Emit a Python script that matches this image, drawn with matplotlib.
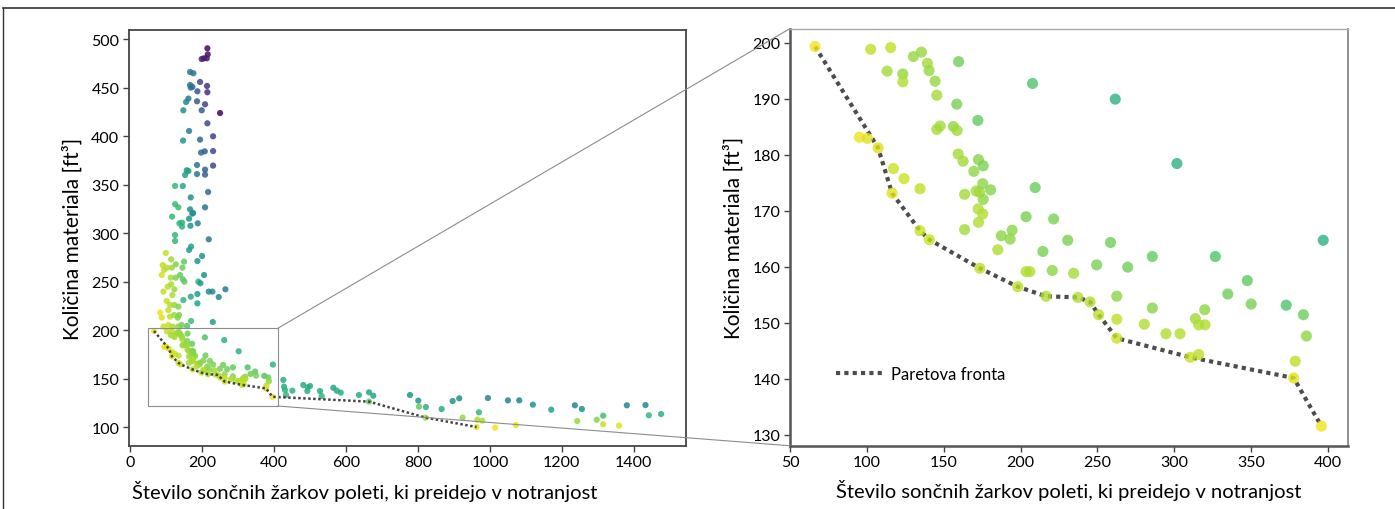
import numpy as np
import matplotlib.pyplot as plt
from matplotlib.patches import Rectangle, ConnectionPatch

plt.rcParams['font.family'] = ['Lato', 'DejaVu Sans']

# solutions inside the zoomed window
zoom_x = [66.3, 102.5, 115.5, 130.3, 135.5, 113.2, 123.4, 123.4, 139.4, 140.5,
          144.4, 145.5, 159.7, 207.8, 158.5, 172.2, 145.5, 147.7, 156.3, 158.7,
          95.1, 100.3, 107.3, 159.4, 162.6, 172.6, 175.7, 117.3, 169.6, 124.2,
          134.6, 116.4, 163.6, 171.1, 173.3, 175.4, 180.5, 175.7, 209.5, 172.4,
          175.4, 172.6, 203.6, 221.5, 163.6, 134.6, 140.7, 187.4, 194.5, 193.2,
          185.2, 214.5, 261.6, 301.7, 396.9, 230.7, 258.5, 285.7, 326.7, 173.5,
          198.2, 203.6, 206.0, 220.6, 249.5, 269.7, 234.5, 347.5, 216.5, 237.3,
          245.2, 262.6, 334.8, 350.0, 372.8, 250.8, 262.6, 285.7, 319.8, 313.7,
          315.9, 320.0, 280.5, 294.6, 303.7, 384.0, 386.0, 262.6, 310.4, 315.9,
          378.7, 377.7, 395.7]
zoom_y = [199.3, 198.8, 199.1, 197.5, 198.3, 194.9, 194.4, 193.0, 196.3, 195.0,
          193.1, 190.6, 196.6, 192.7, 189.0, 186.1, 184.5, 185.1, 185.0, 184.3,
          183.1, 182.9, 181.2, 180.1, 178.8, 179.1, 178.0, 177.5, 177.0, 175.7,
          173.9, 173.1, 172.9, 173.5, 173.3, 174.8, 173.7, 172.0, 174.1, 170.3,
          169.4, 167.9, 168.9, 168.5, 166.6, 166.4, 164.8, 165.5, 166.5, 164.9,
          163.0, 162.7, 189.9, 178.4, 164.7, 164.7, 164.3, 161.8, 161.8, 159.7,
          156.4, 159.1, 159.1, 159.3, 160.3, 159.9, 158.8, 157.5, 154.7, 154.5,
          153.7, 154.7, 155.1, 153.3, 153.1, 151.4, 150.6, 152.6, 152.3, 150.7,
          149.6, 149.6, 149.7, 148.0, 148.0, 151.4, 147.6, 147.2, 143.8, 144.3,
          143.1, 140.1, 131.5]
zoom_c = [0.98, 0.91, 0.91, 0.84, 0.84, 0.86, 0.84, 0.88, 0.86, 0.84,
          0.84, 0.86, 0.78, 0.72, 0.80, 0.76, 0.86, 0.86, 0.83, 0.86,
          0.97, 0.95, 0.95, 0.86, 0.86, 0.82, 0.80, 0.92, 0.83, 0.92,
          0.90, 0.95, 0.86, 0.86, 0.86, 0.83, 0.82, 0.83, 0.77, 0.88,
          0.88, 0.88, 0.80, 0.80, 0.86, 0.92, 0.92, 0.83, 0.83, 0.83,
          0.88, 0.80, 0.64, 0.64, 0.64, 0.80, 0.78, 0.76, 0.72, 0.90,
          0.90, 0.88, 0.88, 0.83, 0.80, 0.78, 0.86, 0.75, 0.88, 0.88,
          0.88, 0.83, 0.78, 0.80, 0.72, 0.90, 0.90, 0.82, 0.83, 0.86,
          0.88, 0.88, 0.88, 0.88, 0.88, 0.77, 0.83, 0.92, 0.92, 0.90,
          0.90, 0.95, 0.98]

# remaining solutions
other_x = [214.7, 215.8, 213.0, 199.0, 205.0, 166.7, 175.9, 194.4, 166.7, 168.5,
           173.0, 213.9, 187.0, 214.7, 162.0, 155.6, 186.0, 208.3, 148.0, 199.0,
           250.0, 214.7, 163.9, 230.6, 147.2, 194.4, 197.2, 207.5, 230.6, 186.0,
           230.6, 157.4, 162.0, 152.8, 186.0, 208.3, 208.3,
           125.0, 146.4, 168.6, 216.7, 125.0, 134.0, 166.7, 208.3, 175.0, 116.7,
           173.0, 163.9, 188.0, 137.0, 144.4, 144.4, 167.6, 218.6, 125.0, 125.0,
           163.9, 169.4, 99.2, 113.9, 150.0, 200.0, 187.0, 90.7, 94.4, 88.0,
           101.8, 115.7, 127.0, 145.4, 113.0, 127.0, 138.9, 146.4, 150.9, 205.6,
           189.8, 195.4, 218.6, 228.7, 264.8, 246.3, 187.0, 168.6, 187.0, 148.0,
           92.6, 104.6, 113.9, 123.0, 117.6, 101.8, 111.0, 123.0, 134.2, 83.3,
           88.0, 106.4, 111.0, 122.2, 136.0, 158.3, 169.4, 229.7, 92.6, 106.4,
           118.6, 134.0, 132.4, 143.6,
           425.8, 427.8, 430.6, 433.3, 450.9, 481.4, 493.6, 500.0, 492.6, 527.8,
           532.4, 564.8, 574.2, 585.3, 636.0, 663.9, 675.9, 663.9, 777.8, 800.9,
           802.8, 822.0, 821.3, 865.8, 896.3, 914.8, 924.0, 969.4, 964.8, 978.7,
           963.0, 994.4, 1014.8, 1050.0, 1081.5, 1072.0, 1119.4, 1170.4, 1236.0,
           1242.6, 1255.6, 1297.0, 1314.8, 1314.8, 1359.0, 1380.6, 1432.4,
           1441.7, 1475.8]
other_y = [490.7, 484.5, 480.4, 479.7, 480.4, 466.3, 465.0, 456.0, 452.9, 450.2,
           451.0, 451.9, 446.4, 445.4, 438.9, 435.4, 436.1, 433.0, 426.8, 426.8,
           424.0, 413.4, 405.5, 400.0, 395.6, 396.6, 383.2, 384.5, 384.8, 370.4,
           369.8, 365.0, 364.2, 360.1, 361.1, 365.6, 360.5,
           348.8, 348.8, 337.0, 342.6, 330.0, 326.8, 324.7, 326.8, 321.0, 317.2,
           320.3, 315.1, 310.3, 310.3, 311.0, 306.9, 307.8, 293.8, 298.2, 292.1,
           282.8, 286.3, 279.7, 273.2, 270.8, 276.6, 271.4, 267.3, 262.2, 257.0,
           264.6, 264.6, 268.0, 264.6, 254.3, 254.3, 257.0, 252.6, 250.2, 257.0,
           250.2, 248.5, 239.9, 239.9, 242.3, 234.3, 237.4, 234.7, 227.8, 231.2,
           239.9, 245.0, 247.4, 242.3, 236.4, 230.2, 226.1, 226.1, 224.4, 218.2,
           213.1, 220.9, 214.1, 215.8, 215.8, 204.4, 209.6, 208.6, 203.8, 205.5,
           203.8, 204.0, 213.1, 205.5,
           148.8, 142.0, 138.5, 133.3, 137.8, 143.6, 141.2, 142.6, 137.4, 137.4,
           132.3, 140.8, 137.8, 135.8, 133.3, 136.1, 132.6, 126.5, 133.3, 127.5,
           121.3, 120.9, 110.0, 118.9, 127.1, 129.9, 110.0, 115.5, 107.9, 106.9,
           100.3, 130.2, 99.7, 127.8, 127.8, 102.4, 123.4, 118.2, 122.7,
           106.5, 118.9, 107.8, 112.0, 103.1, 101.8, 122.7, 123.0,
           112.4, 113.7]
other_c = [0.02, 0.04, 0.06, 0.08, 0.07, 0.36, 0.38, 0.20, 0.36, 0.38,
           0.36, 0.14, 0.26, 0.14, 0.40, 0.45, 0.28, 0.20, 0.50, 0.28,
           0.02, 0.22, 0.42, 0.20, 0.52, 0.33, 0.33, 0.30, 0.22, 0.38,
           0.22, 0.56, 0.56, 0.56, 0.40, 0.30, 0.30,
           0.66, 0.60, 0.50, 0.34, 0.68, 0.68, 0.50, 0.38, 0.48, 0.66,
           0.50, 0.52, 0.45, 0.64, 0.64, 0.64, 0.52, 0.40, 0.66, 0.66,
           0.56, 0.56, 0.91, 0.85, 0.75, 0.50, 0.52, 0.91, 0.91, 0.93,
           0.89, 0.85, 0.81, 0.77, 0.87, 0.81, 0.77, 0.75, 0.75, 0.50,
           0.64, 0.56, 0.48, 0.48, 0.42, 0.45, 0.56, 0.62, 0.58, 0.66,
           0.91, 0.89, 0.87, 0.85, 0.87, 0.91, 0.89, 0.85, 0.81, 0.97,
           0.95, 0.91, 0.89, 0.85, 0.81, 0.72, 0.68, 0.56, 0.91, 0.91,
           0.87, 0.83, 0.81, 0.79,
           0.62, 0.62, 0.64, 0.66, 0.64, 0.62, 0.64, 0.62, 0.64, 0.62,
           0.66, 0.60, 0.62, 0.62, 0.62, 0.60, 0.60, 0.76, 0.52, 0.52,
           0.76, 0.64, 0.86, 0.62, 0.52, 0.50, 0.84, 0.66, 0.88, 0.88,
           0.95, 0.46, 0.98, 0.44, 0.44, 0.95, 0.50, 0.58, 0.46,
           0.84, 0.50, 0.82, 0.70, 0.92, 0.95, 0.46, 0.46,
           0.66, 0.64]

# Pareto front vertices (first 15 fall inside the zoomed window)
front_x = [66.3, 107.3, 116.4, 134.6, 140.7, 173.5, 198.2, 216.5, 237.3, 245.2,
           250.8, 262.6, 310.4, 377.7, 395.7, 663.9, 821.3, 963.0]
front_y = [199.3, 181.2, 173.1, 166.4, 164.8, 159.7, 156.4, 154.7, 154.5, 153.7,
           151.4, 147.2, 143.8, 140.1, 131.5, 126.5, 110.0, 100.3]
n_front_zoom = 15

xlabel = 'Število sončnih žarkov poleti, ki preidejo v notranjost'
ylabel = 'Količina materiala [ft³]'

sol_x = np.array(zoom_x + other_x)
sol_y = np.array(zoom_y + other_y)
sol_c = np.array(zoom_c + other_c)

fig = plt.figure(figsize=(13.95, 5.10), dpi=100)
ax1 = fig.add_axes([0.0925, 0.124, 0.399, 0.816])
ax2 = fig.add_axes([0.5663, 0.124, 0.400, 0.818])

# outer frame (top and left edges visible in the original)
fig.add_artist(plt.Line2D([0.002, 1.0], [0.982, 0.982], color='#333333', lw=1.2))
fig.add_artist(plt.Line2D([0.002, 0.002], [0.0, 0.982], color='#333333', lw=1.0))

# left: all solutions
ax1.scatter(sol_x, sol_y, c=sol_c, cmap='viridis', vmin=0, vmax=1,
            s=20, alpha=0.85, linewidths=0, zorder=2)
ax1.plot(front_x, front_y, color='#444444', lw=1.8, ls=(0, (1, 1)),
         dash_capstyle='butt', zorder=3)
ax1.add_patch(Rectangle((50, 122), 360, 80, fill=False, ec='#8c8c8c', lw=0.8, zorder=4))
ax1.set_xlim(-3, 1544)
ax1.set_ylim(81, 510)
ax1.set_xticks(np.arange(0, 1401, 200))
ax1.set_yticks(np.arange(100, 501, 50))
for sp in ax1.spines.values():
    sp.set_color('#444444')
    sp.set_linewidth(1.3)

# right: zoomed window
ax2.scatter(sol_x, sol_y, c=sol_c, cmap='viridis', vmin=0, vmax=1,
            s=64, alpha=0.8, linewidths=0, zorder=3)
ax2.plot(front_x[:n_front_zoom], front_y[:n_front_zoom], color='#4d4d4d', lw=3,
         ls=(0, (1, 1)), dash_capstyle='butt', zorder=2, label='Paretova fronta')
ax2.set_xlim(50, 413)
ax2.set_ylim(128, 202.5)
ax2.set_xticks(np.arange(50, 401, 50))
ax2.set_yticks(np.arange(130, 201, 10))
ax2.spines['left'].set_color('#555555')
ax2.spines['bottom'].set_color('#555555')
ax2.spines['left'].set_linewidth(1.8)
ax2.spines['bottom'].set_linewidth(1.8)
ax2.spines['top'].set_color('#aaaaaa')
ax2.spines['right'].set_color('#888888')
ax2.spines['top'].set_linewidth(1.0)
ax2.spines['right'].set_linewidth(1.3)
ax2.legend(loc='center left', bbox_to_anchor=(0.055, 0.173), frameon=False,
           fontsize=12, handlelength=2.8, handletextpad=0.5)

for ax in (ax1, ax2):
    ax.tick_params(axis='both', direction='out', length=4, width=1,
                   color='#444444', labelsize=11.5, pad=3)
    ax.set_xlabel(xlabel, fontsize=14.5, labelpad=7)
    ax.set_ylabel(ylabel, fontsize=15, labelpad=6)
ax1.xaxis.set_label_coords(0.424, -0.083)

# zoom connectors
for ya, yb in ((202, 1), (122, 0)):
    con = ConnectionPatch(xyA=(410, ya), coordsA=ax1.transData,
                          xyB=(0, yb), coordsB=ax2.transAxes,
                          color='#8c8c8c', lw=0.8)
    fig.add_artist(con)

fig.savefig('out.png', dpi=100)
